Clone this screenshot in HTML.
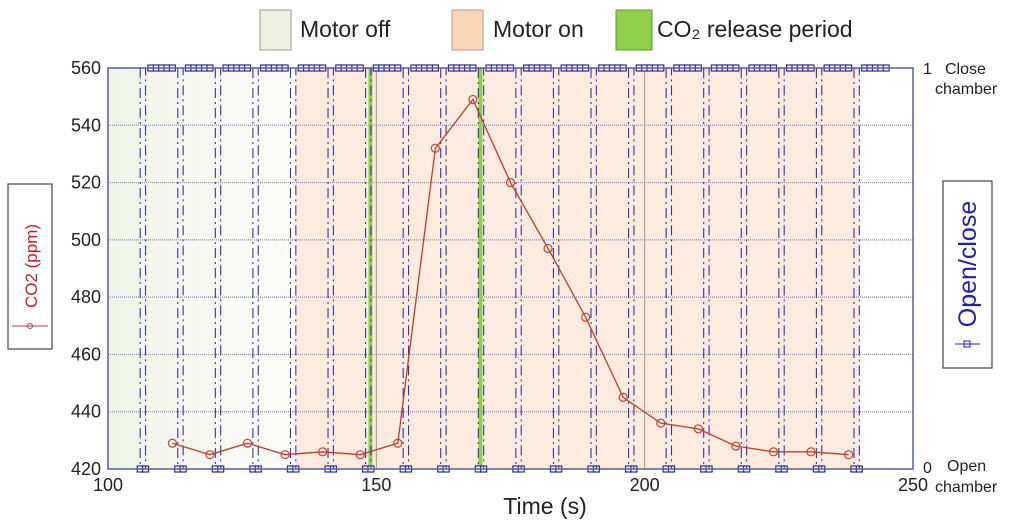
<!DOCTYPE html>
<html><head><meta charset="utf-8"><style>
html,body{margin:0;padding:0;background:#fff;width:1024px;height:526px;overflow:hidden}
svg{display:block;font-family:"Liberation Sans",sans-serif}
</style></head><body>
<svg id="chart" width="1024" height="526" viewBox="0 0 1024 526">
<defs>
<linearGradient id="offGrad" x1="0" x2="1" y1="0" y2="0">
<stop offset="0" stop-color="#f1f4e8"/><stop offset="1" stop-color="#fcfcfa"/>
</linearGradient>
</defs>
<g>
<rect x="260" y="10" width="31" height="40" fill="#eef0e2" stroke="#9a9a8a"/>
<text x="300" y="37" font-size="23" fill="#222">Motor off</text>
<rect x="452" y="10" width="31" height="40" fill="#fbd5b8" stroke="#b89a88"/>
<text x="493" y="37" font-size="23" fill="#222">Motor on</text>
<rect x="616" y="10" width="36" height="40" fill="#8fd04a" stroke="#5e9a2c"/>
<text x="657" y="37" font-size="23" fill="#222">CO₂ release period</text>
</g>
<g id="bg"></g>
<g id="grid"></g>
<g id="green"></g>
<g id="wave"></g>
<g id="co2"></g>
<rect x="108" y="68" width="805" height="401" fill="none" stroke="#5a5aa8" stroke-width="1.5"/>
<g id="ticks"></g>
<text x="545" y="514" font-size="23" text-anchor="middle" fill="#222">Time (s)</text>
<g>
<rect x="8" y="184" width="44" height="165" fill="#fff" stroke="#444" stroke-width="1.2"/>
<text transform="translate(37,266) rotate(-90)" font-size="17" fill="#c0202a" text-anchor="middle">CO2 (ppm)</text>
<line x1="12" y1="326" x2="48" y2="326" stroke="#b04040" stroke-width="1"/>
<circle cx="30" cy="326" r="2.5" fill="none" stroke="#b04040"/>
</g>
<g>
<rect x="943" y="181" width="49" height="187" fill="#fff" stroke="#444" stroke-width="1.2"/>
<text transform="translate(976,264) rotate(-90)" font-size="25" fill="#2020b0" text-anchor="middle">Open/close</text>
<line x1="955" y1="344" x2="980" y2="344" stroke="#2020a0"/>
<rect x="964" y="341" width="6" height="6" fill="none" stroke="#2020a0"/>
</g>
<text x="923" y="74" font-size="16" fill="#222">1</text>
<text x="945" y="74" font-size="16" fill="#222">Close</text>
<text x="935" y="94" font-size="16" fill="#222">chamber</text>
<text x="923" y="473" font-size="16" fill="#222">0</text>
<text x="947" y="471" font-size="16" fill="#222">Open</text>
<text x="935" y="492" font-size="16" fill="#222">chamber</text>
</svg>
<script>
const xTicks = [100, 150, 200, 250];
const yTicks = [420, 440, 460, 480, 500, 520, 540, 560];
const co2Times = [112,119,126,133,140,147,154,161,168,175,182,189,196,203,210,217,224,231,238];
const co2Values = [429,425,429,425,426,425,429,532,549,520,497,473,445,436,434,428,426,426,425];
const cycleStarts = [106,113,120,127,134,141,148,155,162,169,176,183,190,197,204,211,218,225,232,239];
const waveEnd = 245;
const releaseTimes = [148.9, 169.4];
const motorOnStart = 135;
const motorOnEnd = 240;

const NS = "http://www.w3.org/2000/svg";
const X0=108, X1=913, Y0=469, Y1=68;
const xs = t => X0 + (t-100)/(250-100)*(X1-X0);
const ys = v => Y0 - (v-420)/(560-420)*(Y0-Y1);
function mk(tag, attrs, parent){const e=document.createElementNS(NS,tag);for(const k in attrs)e.setAttribute(k,attrs[k]);document.getElementById(parent).appendChild(e);return e;}

let e = mk('rect',{x:X0,y:Y1,width:xs(motorOnStart)-X0,height:Y0-Y1,fill:'url(#offGrad)'},'bg');


e = mk('rect',{x:xs(motorOnStart),y:Y1,width:xs(motorOnEnd)-xs(motorOnStart),height:Y0-Y1,fill:'#fdebe0'},'bg');



yTicks.forEach(v=>{
  if(v>420 && v<560){
    const g = mk('line',{x1:X0,x2:X1,y1:ys(v),y2:ys(v),stroke:'#8a8ac0','stroke-width':1.2,'stroke-dasharray':'1 1'},'grid');
    
    
  }
  const t = mk('text',{x:101,y:ys(v)+6,'font-size':18,'text-anchor':'end',fill:'#222'},'ticks');
  t.textContent = v;
  
  
});
xTicks.forEach(v=>{
  if(v>100 && v<250){
    const g = mk('line',{x1:xs(v),x2:xs(v),y1:Y1,y2:Y0,stroke:'#a09890','stroke-width':1},'grid');
    
    
  }
  const t = mk('text',{x:xs(v),y:491,'font-size':18,'text-anchor':'middle',fill:'#222'},'ticks');
  t.textContent = v;
  
  
});

releaseTimes.forEach(t=>{
  const l = mk('line',{x1:xs(t),x2:xs(t),y1:Y1,y2:Y0,stroke:'#8fd04a','stroke-width':4},'green');
  
  
});

let d='';
cycleStarts.forEach((c,i)=>{
  const next = i+1<cycleStarts.length ? cycleStarts[i+1] : waveEnd;
  d += 'M'+xs(c)+','+Y1+'L'+xs(c)+','+Y0+'L'+xs(c+1)+','+Y0+'L'+xs(c+1)+','+Y1+'L'+xs(next)+','+Y1;
  [c, c+1].forEach(t=>{
    const r = mk('rect',{x:xs(t)-3,y:Y0-3,width:6,height:6,fill:'#fff',stroke:'#2a2a9a','stroke-width':1.2},'wave');
    
    
  });
  for(let t=c+2;t<next+ (i+1<cycleStarts.length?0:1);t++){
    const r = mk('rect',{x:xs(t)-3,y:Y1-3,width:6,height:6,fill:'#fff',stroke:'#2a2a9a','stroke-width':1.2},'wave');
    
    
  }
});
const wp = mk('path',{d:d,fill:'none',stroke:'#34349a','stroke-width':1.1,'stroke-dasharray':'10 4 2 4'},'wave');



let d2='';
co2Times.forEach((t,i)=>{ d2 += (i?'L':'M')+xs(t)+','+ys(co2Values[i]); });
const cp = mk('path',{d:d2,fill:'none',stroke:'#b84030','stroke-width':1.3},'co2');


co2Times.forEach((t,i)=>{
  const c = mk('circle',{cx:xs(t),cy:ys(co2Values[i]),r:4,fill:'none',stroke:'#c84030','stroke-width':1.2},'co2');
  
  
});
</script>
</body></html>
